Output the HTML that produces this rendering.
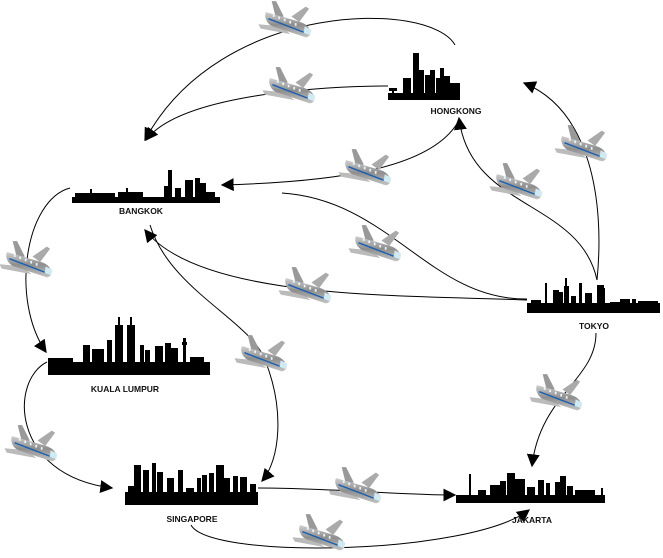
<!DOCTYPE html>
<html><head><meta charset="utf-8"><style>
html,body{margin:0;padding:0;background:#fff;}
svg{display:block;}
text{font-family:"Liberation Sans",sans-serif;font-weight:bold;font-size:8.5px;fill:#111;}
</style></head><body>
<svg width="663" height="558" viewBox="0 0 663 558" xmlns="http://www.w3.org/2000/svg">
<defs>
<marker id="a" viewBox="0 0 10 10" refX="9" refY="5" markerWidth="13" markerHeight="13" markerUnits="userSpaceOnUse" orient="auto"><path d="M0,0L10,5L0,10z" fill="#000"/></marker>
<linearGradient id="g" x1="0" y1="0" x2="0" y2="1"><stop offset="0" stop-color="#d0d0d0"/><stop offset="0.5" stop-color="#8e8e8e"/><stop offset="1" stop-color="#c4c4c4"/></linearGradient>
<g id="q">
 <path d="M-13,-19 L-9,-19 L-2,-5 L-9,-3 z" fill="#999"/>
 <path d="M5,-5 L18,-14 L21,-12 L12,0 z" fill="#aaa"/>
 <path d="M-4,4 L-25,2 L-23,6 L4,11 z" fill="#bbb"/>
 <path d="M-18,-9 L13,0 C23,3 25,13 18,14 L-12,4 C-19,1 -20,-7 -18,-9 z" fill="url(#g)"/>
 <path d="M-16,-3 L18,10" stroke="#1a5fb0" stroke-width="1.3"/>
 <path d="M17,4 L23,7 L22,12 L16,10 z" fill="#cfeaf3"/>
 <g fill="#e8f4fa"><rect x="-12" y="-7" width="1.6" height="2.4"/><rect x="-7" y="-5" width="1.6" height="2.4"/><rect x="-2" y="-3" width="1.6" height="2.4"/><rect x="3" y="-1" width="1.6" height="2.4"/><rect x="8" y="1" width="1.6" height="2.4"/></g>
</g>
<g id="p"><use href="#q" transform="scale(1.1)"/></g>
</defs>
<g fill="none" stroke="#000" stroke-width="1">
<path d="M455,45 C430,0 220,0 145,140" marker-end="url(#a)"/>
<path d="M388,86 C320,86 180,95 146,140" marker-end="url(#a)"/>
<path d="M597,280 C605,200 590,110 524,83" marker-end="url(#a)"/>
<path d="M597,280 C580,200 470,210 459,118" marker-end="url(#a)"/>
<path d="M458,122 C430,170 330,182 222,185" marker-end="url(#a)"/>
<path d="M527,299 C430,300 390,200 282,193"/>
<path d="M527,300 C400,295 200,300 145,230" marker-end="url(#a)"/>
<path d="M70,188 C25,200 10,300 46,352" marker-end="url(#a)"/>
<path d="M47,362 C10,380 10,475 112,488" marker-end="url(#a)"/>
<path d="M150,225 C170,290 250,320 265,360 C285,410 280,460 262,481" marker-end="url(#a)"/>
<path d="M258,488 C330,488 400,495 455,495" marker-end="url(#a)"/>
<path d="M596,333 C596,380 540,395 532,466" marker-end="url(#a)"/>
<path d="M191,525 C210,560 470,555 529,510" marker-end="url(#a)"/>
</g>
<g fill="#000">
<rect x="388" y="93" width="72" height="7"/>
<rect x="389" y="88" width="8" height="3"/><rect x="392" y="89" width="2" height="5"/>
<rect x="403" y="78" width="8" height="16"/><rect x="413" y="53" width="6" height="41"/><rect x="419" y="70" width="5" height="24"/>
<rect x="425" y="75" width="5" height="19"/><rect x="430" y="70" width="5" height="24"/><rect x="436" y="78" width="5" height="16"/>
<rect x="440" y="68" width="4" height="26"/><rect x="444" y="76" width="6" height="18"/><rect x="450" y="83" width="10" height="11"/>
<rect x="72" y="197" width="148" height="6"/>
<rect x="75" y="193" width="40" height="5"/><rect x="90" y="189" width="2" height="8"/><rect x="118" y="192" width="25" height="6"/><rect x="126" y="188" width="2" height="8"/>
<rect x="164" y="186" width="8" height="12"/><rect x="168" y="170" width="4" height="28"/><rect x="175" y="188" width="6" height="10"/>
<rect x="185" y="180" width="8" height="18"/><rect x="195" y="178" width="5" height="20"/><rect x="200" y="183" width="6" height="15"/><rect x="206" y="192" width="9" height="6"/>
<rect x="48" y="362" width="162" height="13"/>
<rect x="48" y="358" width="25" height="5"/><rect x="83" y="345" width="7" height="18"/><rect x="92" y="349" width="12" height="14"/>
<rect x="107" y="340" width="5" height="22"/><rect x="115" y="325" width="8" height="38"/><rect x="118" y="317" width="2" height="10"/><rect x="127" y="325" width="8" height="38"/><rect x="130" y="317" width="2" height="10"/>
<rect x="140" y="345" width="4" height="18"/><rect x="145" y="350" width="5" height="13"/><rect x="155" y="346" width="8" height="17"/><rect x="165" y="343" width="6" height="20"/><rect x="170" y="348" width="8" height="15"/><rect x="183" y="338" width="3" height="25"/><rect x="182" y="342" width="5" height="3"/><rect x="190" y="357" width="14" height="6"/>
<rect x="125" y="492" width="133" height="13"/>
<rect x="128" y="486" width="6" height="8"/><rect x="134" y="465" width="7" height="28"/><rect x="143" y="470" width="6" height="23"/><rect x="152" y="463" width="4" height="30"/><rect x="157" y="472" width="6" height="21"/>
<rect x="167" y="478" width="7" height="15"/><rect x="178" y="470" width="5" height="23"/><rect x="186" y="488" width="8" height="6"/><rect x="197" y="478" width="4" height="15"/><rect x="202" y="475" width="5" height="18"/>
<rect x="209" y="473" width="5" height="20"/><rect x="216" y="465" width="8" height="28"/><rect x="224" y="478" width="6" height="15"/><rect x="233" y="476" width="5" height="17"/><rect x="240" y="477" width="7" height="16"/><rect x="250" y="484" width="6" height="9"/>
<rect x="527" y="303" width="133" height="10"/>
<rect x="531" y="300" width="10" height="4"/><rect x="545" y="283" width="2" height="21"/><rect x="553" y="290" width="6" height="14"/><rect x="559" y="292" width="4" height="12"/><rect x="564" y="286" width="5" height="18"/><rect x="565" y="278" width="2" height="10"/>
<rect x="571" y="296" width="5" height="8"/><rect x="579" y="283" width="3" height="21"/><rect x="585" y="293" width="7" height="11"/><rect x="597" y="285" width="7" height="19"/><rect x="602" y="288" width="3" height="16"/>
<rect x="610" y="302" width="10" height="3"/><rect x="620" y="299" width="10" height="5"/><rect x="632" y="299" width="4" height="5"/><rect x="638" y="301" width="20" height="3"/>
<rect x="456" y="495" width="149" height="8"/>
<rect x="469" y="474" width="2" height="22"/><rect x="478" y="490" width="8" height="6"/><rect x="490" y="485" width="10" height="11"/><rect x="500" y="481" width="6" height="15"/>
<rect x="507" y="473" width="8" height="23"/><rect x="515" y="479" width="10" height="17"/><rect x="527" y="487" width="8" height="9"/><rect x="538" y="480" width="6" height="16"/><rect x="546" y="483" width="4" height="13"/>
<rect x="555" y="482" width="5" height="14"/><rect x="560" y="476" width="6" height="20"/><rect x="567" y="486" width="6" height="10"/><rect x="575" y="490" width="20" height="6"/><rect x="601" y="488" width="2" height="8"/>
</g>
<text x="456" y="114" text-anchor="middle">HONGKONG</text>
<text x="141" y="214" text-anchor="middle">BANGKOK</text>
<text x="594" y="329" text-anchor="middle">TOKYO</text>
<text x="125" y="392" text-anchor="middle">KUALA LUMPUR</text>
<text x="192" y="522" text-anchor="middle">SINGAPORE</text>
<text x="532" y="523" text-anchor="middle">JAKARTA</text>
<use href="#p" x="286" y="22"/>
<use href="#p" x="290" y="88"/>
<use href="#p" x="366" y="170"/>
<use href="#p" x="582" y="146"/>
<use href="#p" x="517" y="184"/>
<use href="#p" x="376" y="246"/>
<use href="#p" x="306" y="288"/>
<use href="#p" x="27" y="262"/>
<use href="#p" x="262" y="356"/>
<use href="#p" x="32" y="446"/>
<use href="#p" x="356" y="488"/>
<use href="#p" x="557" y="395"/>
<use href="#p" x="320" y="535"/>
</svg>
</body></html>
